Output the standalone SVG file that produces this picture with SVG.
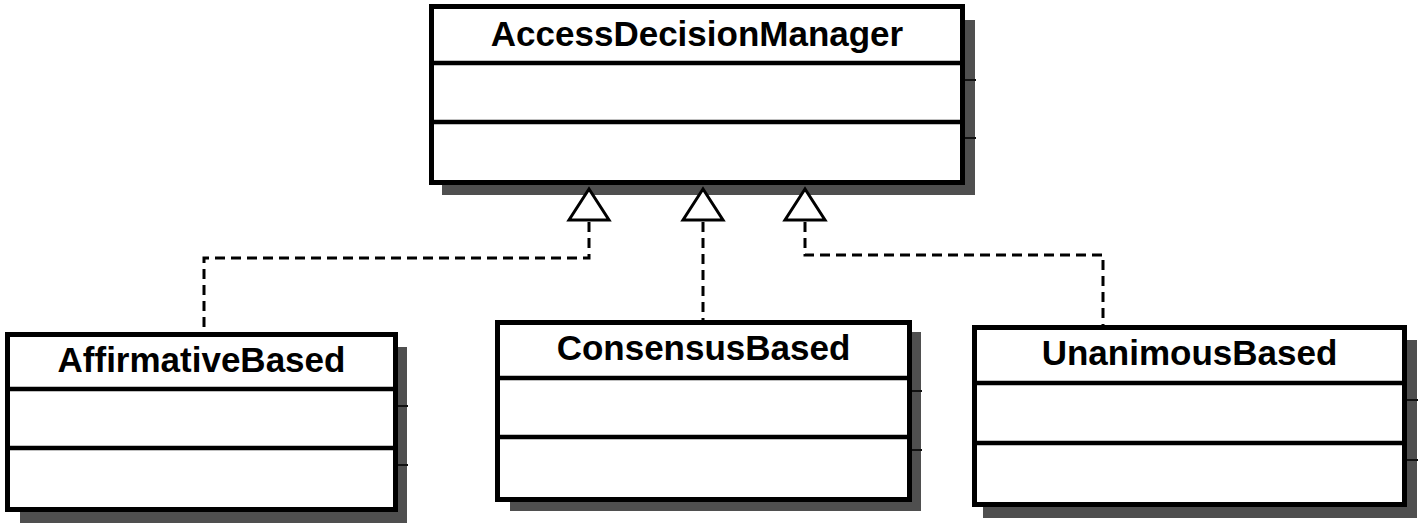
<svg xmlns="http://www.w3.org/2000/svg" width="1424" height="531" viewBox="0 0 1424 531">
<style>
.box{fill:#fff;stroke:#000;stroke-width:5}
.div{stroke:#000;stroke-width:4.5}
.shadow{fill:#4f4f4f}
.tick{stroke:#111;stroke-width:2}
.title{font-family:"Liberation Sans",Arial,sans-serif;font-weight:bold;font-size:35px;fill:#000;text-anchor:middle}
.dash{fill:none;stroke:#000;stroke-width:3;stroke-dasharray:10 6}
.tri{fill:#fff;stroke:#000;stroke-width:3;stroke-linejoin:miter}
</style>
<rect width="1424" height="531" fill="#fff"/>
<g id="connectors">
<path class="dash" d="M589,222 V258 H204 V332"/>
<path class="dash" d="M703,222 V320"/>
<path class="dash" d="M805,222 V255 H1103 V325"/>
</g>
<g id="AccessDecisionManager">
<rect class="shadow" x="965" y="20" width="10" height="175"/>
<rect class="shadow" x="442" y="185" width="533" height="10"/>
<line class="tick" x1="965" y1="80" x2="976" y2="80"/>
<line class="tick" x1="965" y1="138" x2="976" y2="138"/>
<rect class="box" x="431.5" y="6.5" width="531" height="176"/>
<line class="div" x1="431" y1="63" x2="963" y2="63"/>
<line class="div" x1="431" y1="122" x2="963" y2="122"/>
<text class="title" x="697" y="46">AccessDecisionManager</text>
</g>
<g id="arrowheads">
<polygon class="tri" points="589,189 569,220 609,220"/>
<polygon class="tri" points="703,189 683,220 723,220"/>
<polygon class="tri" points="805,189 785,220 825,220"/>
</g>
<g id="AffirmativeBased">
<rect class="shadow" x="398" y="347" width="9" height="176"/>
<rect class="shadow" x="20" y="512" width="387" height="11"/>
<line class="tick" x1="398" y1="406" x2="408" y2="406"/>
<line class="tick" x1="398" y1="465" x2="408" y2="465"/>
<rect class="box" x="7.5" y="334.5" width="388" height="175"/>
<line class="div" x1="7" y1="389" x2="396" y2="389"/>
<line class="div" x1="7" y1="448" x2="396" y2="448"/>
<text class="title" x="201.5" y="372">AffirmativeBased</text>
</g>
<g id="ConsensusBased">
<rect class="shadow" x="912" y="332" width="9" height="178"/>
<rect class="shadow" x="510" y="502" width="411" height="9"/>
<line class="tick" x1="912" y1="391" x2="922" y2="391"/>
<line class="tick" x1="912" y1="450" x2="922" y2="450"/>
<rect class="box" x="497.5" y="322.5" width="412" height="177"/>
<line class="div" x1="497" y1="378" x2="910" y2="378"/>
<line class="div" x1="497" y1="437" x2="910" y2="437"/>
<text class="title" x="703.5" y="360">ConsensusBased</text>
</g>
<g id="UnanimousBased">
<rect class="shadow" x="1407" y="340" width="10" height="178"/>
<rect class="shadow" x="983" y="507" width="434" height="11"/>
<line class="tick" x1="1407" y1="400" x2="1418" y2="400"/>
<line class="tick" x1="1407" y1="460" x2="1418" y2="460"/>
<rect class="box" x="974.5" y="327.5" width="430" height="177"/>
<line class="div" x1="974" y1="383" x2="1405" y2="383"/>
<line class="div" x1="974" y1="443" x2="1405" y2="443"/>
<text class="title" x="1189.5" y="365">UnanimousBased</text>
</g>
</svg>
